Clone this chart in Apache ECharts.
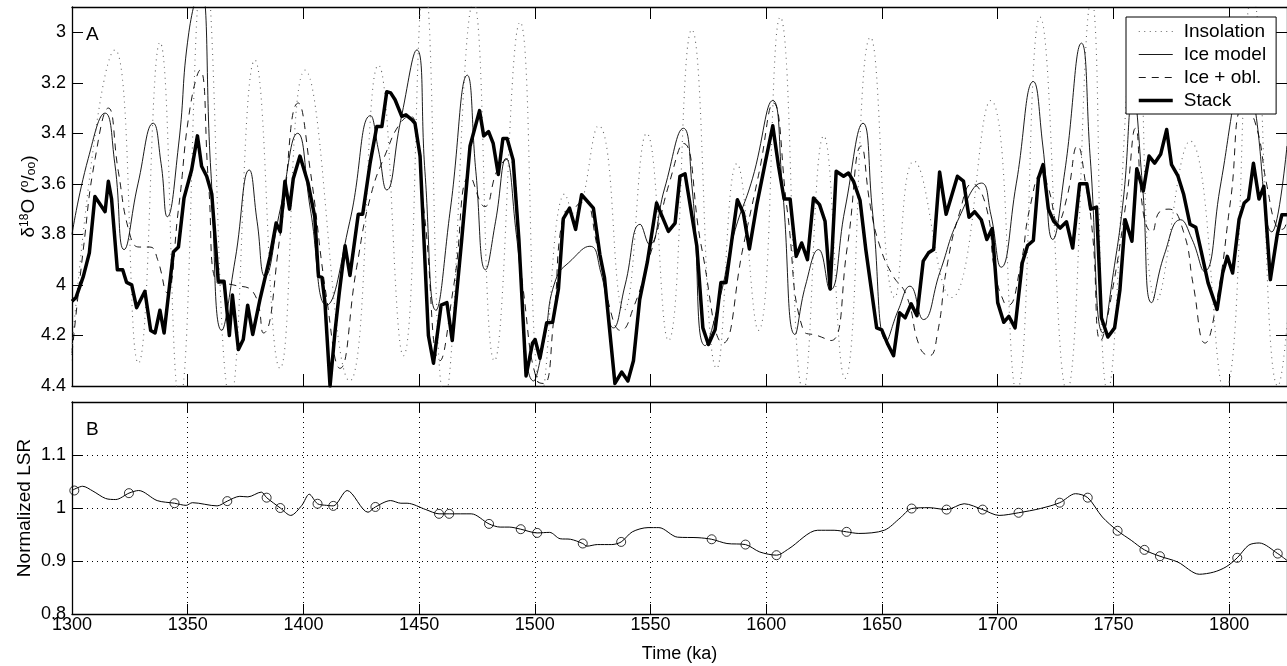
<!DOCTYPE html>
<html>
<head>
<meta charset="utf-8">
<script src="https://cdn.jsdelivr.net/npm/echarts/dist/echarts.min.js"></script>
<style>
html, body { margin: 0; padding: 0; background: #fff; }
#chart { width: 1287px; height: 666px; }
</style>
</head>
<body>
<div id="chart"></div>
<script>
// panel A : benthic stack (thick line)
var stackAge = [1300,1301.7,1304.9,1307.5,1309.9,1314.3,1315.7,1317.1,1319.6,1321.9,1323.6,1325.8,1327.9,1331.5,1334,1335.9,1338,1339.8,1343.8,1346,1348.4,1351.7,1354.2,1356,1358.2,1360.4,1363.2,1365.7,1368,1369.3,1371.9,1374,1375.9,1378.1,1381.2,1385.6,1388.2,1390,1392,1394,1395.6,1398.5,1402,1404.9,1406.5,1408,1409.3,1411.5,1413.7,1415.5,1418,1420.1,1423.7,1425.6,1428.8,1431.7,1433.9,1436,1437.7,1439.6,1442.5,1444.3,1446.8,1448.2,1450.4,1454,1456.2,1459.5,1462,1464.3,1468.3,1472,1476.1,1477.9,1480,1482,1484.2,1486.2,1488,1490.6,1493.1,1496.2,1499,1500.1,1502.2,1505.1,1507.7,1510.2,1512.3,1515,1517.6,1520.2,1525.3,1528.1,1530.1,1534.6,1537.5,1540.2,1542.6,1545.3,1548.6,1552.6,1557.7,1560.6,1562.7,1564.9,1570,1572.6,1575,1577.9,1580.4,1582.6,1587.5,1590.1,1592.7,1595.9,1599.5,1602.8,1605.3,1607.7,1610.3,1612.9,1615.3,1617.8,1620.4,1623,1625.4,1627.6,1630.2,1633.4,1635.5,1637.7,1640.5,1643,1647.7,1649.9,1652.5,1655,1657.6,1660,1662.6,1665.1,1667.8,1670.1,1672.3,1674.9,1677.7,1682.6,1685.2,1687.6,1690,1692.9,1695.3,1697.6,1700,1702.6,1704.8,1707.5,1710.6,1712.9,1715.4,1717.6,1719.6,1721.9,1724.2,1727,1729.7,1732.4,1735.4,1738.5,1740.2,1742.7,1744.8,1747.6,1750.5,1752.8,1755.1,1758,1760.1,1762.9,1765.4,1767.8,1770.4,1773,1775.1,1777.8,1780.3,1783.1,1785.6,1788,1790.9,1794.8,1797.2,1799.2,1801.5,1804.3,1806.5,1808.4,1810.5,1812.9,1815,1817.8,1820.8,1822.8,1825];
var stackD18O = [4.065,4.05,3.966,3.873,3.65,3.71,3.59,3.66,3.94,3.94,3.99,4.0,4.09,4.025,4.18,4.19,4.10,4.19,3.87,3.85,3.656,3.544,3.41,3.53,3.57,3.64,3.985,3.985,4.20,4.04,4.256,4.216,4.08,4.196,4.058,3.887,3.755,3.79,3.59,3.70,3.58,3.49,3.597,3.73,3.966,3.97,4.07,4.40,4.18,4.03,3.845,3.963,3.72,3.72,3.518,3.373,3.373,3.235,3.24,3.267,3.333,3.327,3.346,3.36,3.49,4.2,4.31,4.08,4.07,4.22,3.83,3.45,3.31,3.41,3.393,3.44,3.563,3.42,3.42,3.505,3.82,4.36,4.23,4.216,4.29,4.15,4.148,4.015,3.738,3.696,3.78,3.643,3.696,3.88,3.972,4.39,4.345,4.38,4.30,4.058,3.91,3.676,3.788,3.755,3.57,3.56,3.847,4.17,4.236,4.177,3.99,3.99,3.663,3.716,3.858,3.683,3.518,3.37,3.53,3.66,3.66,3.887,3.834,3.9,3.656,3.682,3.748,4.016,3.55,3.57,3.557,3.59,3.665,3.86,4.17,4.178,4.235,4.28,4.11,4.13,4.075,4.122,3.906,3.873,3.86,3.553,3.72,3.57,3.589,3.732,3.71,3.742,3.82,3.777,4.07,4.148,4.124,4.17,3.913,3.844,3.824,3.577,3.524,3.70,3.748,3.775,3.75,3.854,3.60,3.60,3.70,3.692,4.13,4.206,4.17,4.02,3.742,3.827,3.54,3.628,3.49,3.518,3.483,3.385,3.524,3.567,3.64,3.76,3.772,3.87,3.992,4.097,3.953,3.887,3.953,3.74,3.676,3.66,3.518,3.66,3.61,3.979,3.80,3.722,3.722];

// ice model (thin line)
var iceAge = [1300,1307,1314.3,1318.5,1322.5,1328.5,1335.1,1338.5,1341.2,1346,1350.5,1355.5,1360,1364.7,1370.5,1376.6,1380,1383.4,1390,1397.5,1403,1410,1420,1429,1432.5,1436,1442,1449,1452.5,1457.2,1463.5,1470.8,1474.5,1478.7,1483,1487.5,1492,1499.5,1504,1509,1516,1523.8,1528.5,1534,1539,1545.5,1549.5,1556,1564.2,1568,1573.6,1580,1586,1594,1602.8,1607,1612.4,1617,1622.6,1627.6,1634,1641.8,1646,1652,1657,1662.1,1667.9,1675,1683.5,1693,1697,1701.5,1708,1715.4,1719.5,1723.8,1729,1736.2,1740,1745.5,1750,1754.3,1758.5,1762.5,1766.5,1772,1779,1784,1789.3,1796,1801.5,1806.5,1811.5,1818.5,1825];
var iceD18O = [3.80,3.50,3.32,3.52,3.86,3.60,3.36,3.52,3.73,3.45,3.0,2.82,3.55,4.18,3.90,3.545,3.75,3.966,3.70,3.40,3.70,4.08,3.75,3.33,3.47,3.624,3.35,3.07,3.55,4.10,3.70,3.17,3.55,3.94,3.75,3.50,3.80,4.38,4.22,3.98,3.90,3.847,3.95,4.17,4.00,3.76,3.84,3.62,3.38,3.62,4.24,4.05,3.80,3.58,3.27,3.62,4.196,4.00,3.86,4.02,3.70,3.36,3.72,4.22,4.10,4.005,4.137,3.95,3.73,3.597,3.72,3.93,3.60,3.195,3.45,3.82,3.55,3.043,3.50,4.19,3.95,3.66,3.25,3.60,4.07,3.88,3.742,3.82,3.946,3.62,3.30,3.02,3.32,3.79,3.45];

// ice model + obliquity (dashed)
var oblAge = [1300,1305,1310,1315.7,1320,1325,1329,1333.7,1337,1340.9,1346,1351,1355.3,1359,1362.5,1369.7,1378.4,1382.7,1390,1397.8,1403,1410,1415.8,1423,1429,1436,1441.8,1446,1452,1459,1465,1472,1478.3,1484,1488.5,1495,1501,1504,1508,1512.3,1516.6,1521,1527,1533.8,1537,1543,1548.5,1553,1558,1564.2,1572,1581.4,1590,1597,1603,1609,1616,1622,1628,1635,1641,1645,1649.2,1654.5,1660.5,1666.5,1670.5,1674,1678,1683.5,1689,1695,1698.8,1702.8,1704.6,1709.7,1714,1719,1722,1726,1730,1734.5,1738,1741,1744.5,1749,1755.8,1759.5,1763,1766.6,1770,1774,1780.3,1784.5,1789.6,1794.7,1800.7,1806,1811,1816.4,1820.5,1823,1825];
var oblD18O = [4.27,3.85,3.50,3.30,3.55,3.80,3.85,3.85,3.90,4.03,3.70,3.30,3.15,3.60,3.99,4.0,4.03,4.19,3.80,3.28,3.55,4.05,4.33,3.93,3.65,3.47,3.36,3.33,3.70,4.30,4.00,3.57,3.69,3.54,3.50,4.02,4.38,4.39,4.15,3.72,3.70,3.66,3.85,4.14,4.18,4.08,3.92,3.78,3.60,3.44,3.85,4.23,3.85,3.55,3.28,3.70,4.18,4.20,4.22,3.85,3.45,3.69,3.85,3.96,4.04,4.25,4.28,4.19,3.93,3.715,3.60,3.69,3.95,4.07,4.08,3.93,3.69,3.56,3.62,3.75,3.65,3.45,3.60,3.80,4.22,4.05,3.65,3.38,3.72,3.79,3.71,3.70,3.79,4.00,4.23,4.06,3.66,3.30,3.35,3.61,3.77,3.78,3.74];

// insolation, scaled onto the d18O axis (dotted)
var insolAge = [1298,1318.6,1328.7,1338,1346.5,1357,1368.5,1379,1389.9,1400.7,1420,1432.4,1443.2,1452.2,1461,1473.5,1482.5,1493.6,1503,1513,1517,1527.5,1538.5,1548.3,1557.7,1567.8,1578.6,1587.3,1596.6,1606,1616,1624.8,1634,1645,1655.5,1663.8,1680,1697,1708.2,1718.3,1729.9,1740.5,1747.5,1760,1768.7,1783.1,1798,1810,1821,1830];
var insolVal = [4.45,3.07,4.31,3.04,4.46,2.7,4.45,3.11,4.33,3.15,4.38,3.13,4.28,2.8,4.45,2.88,4.30,2.96,4.42,3.64,3.72,3.37,4.10,3.40,4.22,2.99,4.33,3.52,4.18,2.94,4.42,3.41,4.37,3.02,4.05,3.51,4.05,3.27,4.42,2.94,4.42,2.87,4.42,2.95,4.06,3.43,4.42,2.85,4.40,3.5];

// panel B : normalized LSR
var lsrAge = [1300,1304.6,1309,1314.5,1318.9,1324.6,1328.8,1336.8,1344.3,1349.3,1352,1362.7,1367.1,1372.5,1376,1381.8,1384.1,1390,1394.5,1399.3,1402.5,1406.1,1410,1412.9,1418.9,1427.9,1431.1,1437.7,1442.1,1444.8,1452.9,1458.6,1463,1472.5,1480.2,1485,1488.9,1493.9,1501,1506.4,1510.9,1515.4,1520.7,1522.5,1527,1533.2,1537.3,1542.1,1548.9,1553.6,1561.6,1570.5,1576.4,1583,1591,1597.2,1604.4,1609.7,1622.2,1629.3,1634.7,1640,1651,1657.8,1662.8,1670.3,1677.9,1685.5,1693.5,1700.6,1709,1718.4,1726.8,1733.6,1738.9,1745.2,1751.8,1757.7,1763.4,1770.1,1777.8,1787.1,1793.3,1798.7,1803.5,1808.5,1813,1821,1825];
var lsrVal = [1.033,1.041,1.032,1.018,1.016,1.028,1.033,1.014,1.009,1.005,1.01,1.004,1.013,1.022,1.021,1.03,1.0195,1.0,0.986,1.005,1.026,1.008,1.005,1.004,1.033,0.992,1.002,1.014,1.009,1.009,0.997,0.989,0.989,0.989,0.970,0.964,0.964,0.96,0.953,0.954,0.942,0.941,0.933,0.928,0.931,0.931,0.936,0.955,0.963,0.963,0.945,0.944,0.941,0.933,0.931,0.917,0.911,0.923,0.958,0.958,0.955,0.952,0.958,0.981,0.999,1.0006,0.997,1.008,0.997,0.986,0.991,0.999,1.01,1.027,1.0195,0.983,0.957,0.939,0.921,0.909,0.898,0.875,0.879,0.889,0.906,0.93,0.934,0.914,0.901];
// tie points (circles)
var tieAge = [1301,1324.6,1344.3,1367.1,1384.1,1390,1406.1,1412.9,1431.1,1458.6,1463,1480.2,1493.9,1501,1520.7,1537.3,1576.4,1591,1604.4,1634.7,1662.8,1677.9,1693.5,1709,1726.8,1738.9,1751.8,1763.4,1770.1,1803.5,1821];
var tieVal = [1.033,1.028,1.009,1.013,1.0195,1.0,1.008,1.004,1.002,0.989,0.989,0.970,0.96,0.953,0.933,0.936,0.941,0.931,0.911,0.955,0.999,0.997,0.997,0.991,1.01,1.0195,0.957,0.921,0.909,0.906,0.914];

// tick labels
var d18oTicks = [3, 3.2, 3.4, 3.6, 3.8, 4, 4.2, 4.4];
var lsrTicks = [0.8, 0.9, 1, 1.1];

var font = 'Liberation Sans, Arial, Helvetica, sans-serif';

function pairs(xs, ys) {
	return xs.map(function (x, i) { return [x, ys[i]]; });
}

function timeAxis(grid, pos, tickLen, opts) {
	var a = {
		type: 'value', gridIndex: grid, position: pos,
		min: 1300, max: 1825, interval: 50,
		axisLine: { lineStyle: { color: '#000', width: 1.3 } },
		axisTick: { inside: true, length: tickLen, lineStyle: { color: '#000', width: 1 } },
		axisLabel: { show: false },
		splitLine: { show: false }
	};
	return Object.assign(a, opts || {});
}

var chart = echarts.init(document.getElementById('chart'));

var option = {
	animation: false,
	backgroundColor: '#fff',
	textStyle: { fontFamily: font },
	grid: [
		{ left: 72, top: 7, width: 1216, height: 379 },
		{ left: 72, top: 402, width: 1216, height: 212 }
	],
	xAxis: [
		timeAxis(0, 'bottom', 12),
		timeAxis(0, 'top', 12),
		timeAxis(1, 'bottom', 10, {
			axisLabel: { show: true, color: '#000', fontSize: 18, margin: 2, showMaxLabel: false, fontFamily: font,
				formatter: function (v) { return String(v); } },
			splitLine: { show: true, lineStyle: { color: '#000', width: 1, type: [1, 4] } },
			name: 'Time (ka)', nameLocation: 'middle', nameGap: 31, nameMoveOverlap: false,
			nameTextStyle: { color: '#000', fontSize: 18, fontFamily: font }
		}),
		timeAxis(1, 'top', 10)
	],
	yAxis: [
		{
			type: 'value', gridIndex: 0, inverse: true, min: 2.9, max: 4.4,
			axisLine: { show: true, lineStyle: { color: '#000', width: 1.3 } },
			axisTick: { inside: true, length: 11, customValues: d18oTicks, lineStyle: { color: '#000' } },
			axisLabel: { customValues: d18oTicks, color: '#000', fontSize: 18, margin: 6, fontFamily: font },
			splitLine: { show: false },
			name: 'δ{sup|18}O ({sup|o}/{sub|oo})', nameLocation: 'middle', nameRotate: 90,
			nameGap: 34, nameMoveOverlap: false,
			nameTextStyle: {
				color: '#000', fontSize: 19, fontFamily: font,
				rich: {
					sup: { fontSize: 12, verticalAlign: 'top', fontFamily: font, color: '#000' },
					sub: { fontSize: 12, verticalAlign: 'bottom', fontFamily: font, color: '#000' }
				}
			}
		},
		{
			type: 'value', gridIndex: 1, min: 0.8, max: 1.2, interval: 0.1,
			axisLine: { show: true, lineStyle: { color: '#000', width: 1.3 } },
			axisTick: { inside: true, length: 11, lineStyle: { color: '#000' } },
			axisLabel: { color: '#000', fontSize: 18, margin: 6, showMaxLabel: false, fontFamily: font,
				formatter: function (v) { return lsrTicks.indexOf(+v.toFixed(1)) >= 0 ? String(+v.toFixed(1)) : ''; } },
			splitLine: { show: true, lineStyle: { color: '#000', width: 1, type: [1, 4] } },
			name: 'Normalized LSR', nameLocation: 'middle', nameRotate: 90,
			nameGap: 38, nameMoveOverlap: false,
			nameTextStyle: { color: '#000', fontSize: 19, fontFamily: font }
		},
		{
			type: 'value', gridIndex: 0, position: 'right', inverse: true, min: 2.9, max: 4.4,
			axisLine: { show: true, lineStyle: { color: '#000', width: 1.3 } },
			axisTick: { inside: true, length: 11, customValues: d18oTicks, lineStyle: { color: '#000' } },
			axisLabel: { show: false }, splitLine: { show: false }
		},
		{
			type: 'value', gridIndex: 1, position: 'right', min: 0.8, max: 1.2, interval: 0.1,
			axisLine: { show: true, lineStyle: { color: '#000', width: 1.3 } },
			axisTick: { inside: true, length: 11, lineStyle: { color: '#000' } },
			axisLabel: { show: false }, splitLine: { show: false }
		}
	],
	legend: {
		data: [
			{ name: 'Insolation', lineStyle: { width: 1.1 } },
			{ name: 'Ice model', lineStyle: { width: 0.9 } },
			{ name: 'Ice + obl.', lineStyle: { width: 0.9 } },
			{ name: 'Stack', lineStyle: { width: 3.5 } }
		],
		orient: 'vertical', left: 1126, top: 17,
		padding: [5, 10, 4, 11], itemGap: 4, itemWidth: 34, itemHeight: 14,
		backgroundColor: '#fff', borderColor: '#000', borderWidth: 1,
		selectedMode: false, z: 10,
		// hide the marker dot, keep only the line sample
		itemStyle: { color: 'rgba(0,0,0,0)', borderColor: 'rgba(0,0,0,0)', borderWidth: 0 },
		textStyle: { color: '#000', fontSize: 19, fontFamily: font, padding: [0, 0, 0, 6] }
	},
	graphic: [
		{ type: 'text', left: 86, top: 25, style: { text: 'A', font: '19px ' + font, fill: '#000' } },
		{ type: 'text', left: 86, top: 420, style: { text: 'B', font: '19px ' + font, fill: '#000' } }
	],
	series: [
		{
			name: 'Insolation', type: 'line', xAxisIndex: 0, yAxisIndex: 0,
			data: pairs(insolAge, insolVal), smooth: 0.5, symbol: 'none',
			lineStyle: { color: '#666', width: 1.1, type: [1, 4.5] }
		},
		{
			name: 'Ice model', type: 'line', xAxisIndex: 0, yAxisIndex: 0,
			data: pairs(iceAge, iceD18O), smooth: 0.5, symbol: 'none',
			lineStyle: { color: '#000', width: 0.9 }
		},
		{
			name: 'Ice + obl.', type: 'line', xAxisIndex: 0, yAxisIndex: 0,
			data: pairs(oblAge, oblD18O), smooth: 0.5, symbol: 'none',
			lineStyle: { color: '#000', width: 0.9, type: [7, 6] }
		},
		{
			name: 'Stack', type: 'line', xAxisIndex: 0, yAxisIndex: 0,
			data: pairs(stackAge, stackD18O), symbol: 'none',
			lineStyle: { color: '#000', width: 3.5, join: 'round' }
		},
		{
			name: 'LSR', type: 'line', xAxisIndex: 2, yAxisIndex: 1,
			data: pairs(lsrAge, lsrVal), smooth: 0.3, symbol: 'none',
			lineStyle: { color: '#000', width: 1 }
		},
		{
			name: 'Tie points', type: 'scatter', xAxisIndex: 2, yAxisIndex: 1,
			data: pairs(tieAge, tieVal), symbol: 'circle', symbolSize: 9,
			itemStyle: { color: 'rgba(0,0,0,0)', borderColor: '#000', borderWidth: 1 }
		}
	]
};

chart.setOption(option);
window.onresize = chart.resize;
</script>
</body>
</html>
